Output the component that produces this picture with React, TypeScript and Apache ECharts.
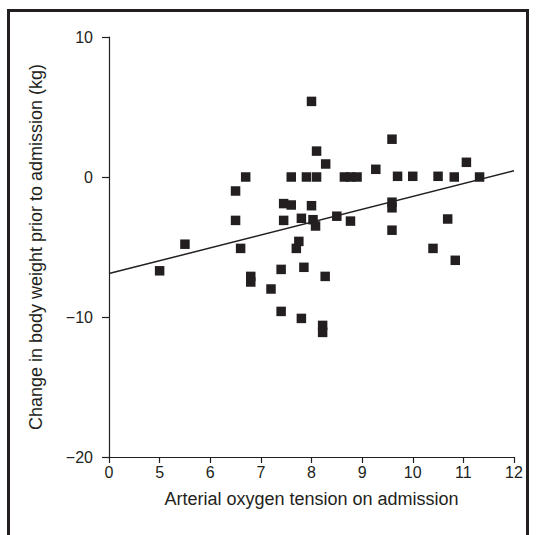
import React, { useEffect, useRef } from "react";
import * as echarts from "echarts";

const xTickLabels = ["0", "5", "6", "7", "8", "9", "10", "11", "12"];
const yTicks = [-20, -10, 0, 10];

// x values read on the displayed scale (axis starts at 4, shown as "0")
const pointsX = [
  5.0, 5.5, 6.5, 6.5, 6.6, 6.7, 6.8, 6.8, 7.2, 7.4,
  7.4, 7.45, 7.45, 7.6, 7.6, 7.7, 7.75, 7.8, 7.8, 7.85,
  7.9, 8.0, 8.0, 8.03, 8.08, 8.1, 8.1, 8.22, 8.22, 8.27,
  8.28, 8.5, 8.65, 8.77, 8.9, 8.77, 9.27, 9.59, 9.59, 9.59,
  9.59, 9.7, 10.0, 10.4, 10.5, 10.69, 10.82, 10.84, 11.06, 11.32,
];
const pointsY = [
  -6.7, -4.8, -1.0, -3.1, -5.1, 0, -7.1, -7.5, -8.0, -6.6,
  -9.6, -3.1, -1.9, -2.0, 0, -5.1, -4.6, -2.95, -10.1, -6.45,
  0, 5.4, -2.05, -3.05, -3.5, 1.85, 0, -10.6, -11.1, -7.1,
  0.93, -2.8, 0, 0, 0, -3.15, 0.55, 2.7, -1.8, -2.2,
  -3.8, 0.05, 0.05, -5.1, 0.05, -3.0, 0, -5.95, 1.05, 0,
];
const fitX = [4, 12];
const fitY = [-6.9, 0.45];

const xTickValues = [4, 5, 6, 7, 8, 9, 10, 11, 12];

export default function App() {
  const ref = useRef<HTMLDivElement>(null);
  useEffect(() => {
    document.body.style.margin = "0";
    if (!ref.current) return;
    const chart = echarts.init(ref.current, null, { renderer: "svg" });
    const ink = "#231f20";
    const font = "'Liberation Sans', Arial, sans-serif";
    const scatterData = pointsX.map((x, i) => [x, pointsY[i]]);
    const fitData = fitX.map((x, i) => [x, fitY[i]]);
    chart.setOption({
      animation: false,
      backgroundColor: "#ffffff",
      grid: { left: 109, top: 37, width: 405, height: 420, containLabel: false },
      xAxis: {
        type: "value",
        min: 4,
        max: 12,
        interval: 1,
        name: "Arterial oxygen tension on admission",
        nameLocation: "middle",
        nameGap: 33,
        nameTextStyle: { color: ink, fontSize: 18, fontFamily: font },
        axisLine: { show: true, onZero: false, lineStyle: { color: ink, width: 1.2 } },
        axisTick: { show: true, length: 6, lineStyle: { color: ink, width: 1.2 } },
        axisLabel: {
          color: ink,
          fontSize: 16,
          fontFamily: font,
          margin: 7,
          formatter: (v: number) => xTickLabels[xTickValues.indexOf(v)] ?? "",
        },
        splitLine: { show: false },
      },
      yAxis: {
        type: "value",
        min: yTicks[0],
        max: yTicks[yTicks.length - 1],
        interval: 10,
        name: "Change in body weight prior to admission (kg)",
        nameLocation: "middle",
        nameGap: 64,
        nameRotate: 90,
        nameTextStyle: { color: ink, fontSize: 18, fontFamily: font },
        axisLine: { show: true, onZero: false, lineStyle: { color: ink, width: 1.2 } },
        axisTick: { show: true, length: 7, lineStyle: { color: ink, width: 1.2 } },
        axisLabel: {
          color: ink,
          fontSize: 16,
          fontFamily: font,
          margin: 16,
          formatter: (v: number) => String(v).replace("-", "\u2212"),
        },
        splitLine: { show: false },
      },
      graphic: [
        {
          type: "rect",
          shape: { x: 8.5, y: 10.5, width: 519, height: 530 },
          style: { fill: "none", stroke: ink, lineWidth: 3 },
          silent: true,
        },
      ],
      series: [
        {
          type: "line",
          data: fitData,
          symbol: "none",
          lineStyle: { color: ink, width: 1.5 },
          z: 2,
        },
        {
          type: "scatter",
          data: scatterData,
          symbol: "rect",
          symbolSize: 9.5,
          itemStyle: { color: ink, opacity: 1 },
          z: 3,
        },
      ],
    });
    return () => chart.dispose();
  }, []);
  return <div ref={ref} style={{ width: 536, height: 535 }} />;
}
